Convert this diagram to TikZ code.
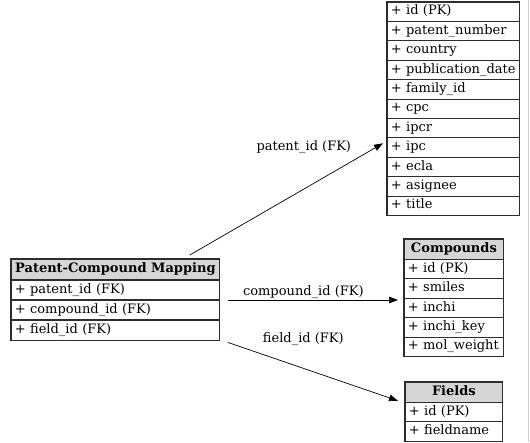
\documentclass[tikz,border=0pt]{standalone}
\usepackage{fontspec}
\setmainfont{DejaVu Serif}
\usetikzlibrary{arrows.meta, positioning, fit, calc}
\definecolor{hdrgray}{RGB}{214, 214, 214}
\definecolor{edgegray}{RGB}{45, 45, 45}
\definecolor{framegray}{RGB}{205, 205, 205}

\begin{document}
\begin{tikzpicture}[x=1pt, y=-1pt,
    cellrow/.style={draw=edgegray, line width=0.8pt, anchor=north west, inner xsep=3.5pt, inner ysep=0pt,
        minimum height=19.4pt, text height=9.5pt, text depth=3pt, align=left, font=\fontsize{13}{15}\selectfont},
    cellhead/.style={cellrow, fill=hdrgray, minimum height=20pt, align=center, font=\fontsize{13}{15}\selectfont\bfseries},
    tableframe/.style={draw=edgegray, line width=1.3pt, inner sep=0pt},
    fkarrow/.style={-{Triangle[length=9pt, width=6.5pt]}, line width=0.7pt, black},
    fklabel/.style={font=\fontsize{13}{15}\selectfont, inner sep=1pt}]

    % Rahmen des Bildes
    \useasboundingbox (0, 0) rectangle (530, 442);
    \fill[white] (0, 0) rectangle (530, 442);
    \draw[framegray, line width=1pt] (528.5, 0) -- (528.5, 442);

    % --- Patents (oben abgeschnitten) ---
    \foreach \f [count=\i] in {id (PK), patent\_number, country, publication\_date, family\_id, cpc, ipcr, ipc, ecla, asignee, title}
        \node[cellrow, text width=125pt] (pat\i) at (387, {1.5+(\i-1)*19.4}) {+ \f};
    \node[tableframe, fit=(pat1)(pat11)] (patents) {};

    % --- Patent-Compound Mapping ---
    \node[cellhead, minimum width=208pt] (maphead) at (11, 259) {Patent-Compound Mapping};
    \node[cellrow, text width=201pt, below=0pt of maphead.south west, anchor=north west] (mapp) {+ patent\_id (FK)};
    \node[cellrow, text width=201pt, below=0pt of mapp.south west, anchor=north west] (mapc) {+ compound\_id (FK)};
    \node[cellrow, text width=201pt, below=0pt of mapc.south west, anchor=north west] (mapf) {+ field\_id (FK)};
    \node[tableframe, fit=(maphead)(mapf)] (mapping) {};

    % --- Compounds ---
    \node[cellhead, minimum width=99pt] (cmphead) at (404, 239) {Compounds};
    \foreach \f [count=\i] in {id (PK), smiles, inchi, inchi\_key, mol\_weight}
        \node[cellrow, text width=92pt] (cmp\i) at (404, {259+(\i-1)*19.4}) {+ \f};
    \node[tableframe, fit=(cmphead)(cmp5)] (compounds) {};

    % --- Fields ---
    \node[cellhead, minimum width=97pt] (fldhead) at (405, 382) {Fields};
    \foreach \f [count=\i] in {id (PK), fieldname}
        \node[cellrow, text width=90pt] (fld\i) at (405, {402+(\i-1)*19.4}) {+ \f};
    \node[tableframe, fit=(fldhead)(fld2)] (fields) {};

    % Fremdschluessel
    \draw[fkarrow] ([xshift=-30pt, yshift=4pt]maphead.north east) -- node[pos=0.59, above=34pt, fklabel] {patent\_id (FK)} ([xshift=-4pt, yshift=-6pt]pat8.north west);
    \draw[fkarrow] ([xshift=8pt]mapc.north east) -- node[pos=0.444, above=0pt, fklabel] {compound\_id (FK)} ($(cmp3.west |- mapc.north east)+(-6,0)$);
    \draw[fkarrow] ([xshift=8pt, yshift=-2pt]mapf.south east) -- node[pos=0.444, above=21pt, fklabel] {field\_id (FK)} ([xshift=-7pt, yshift=2pt]fldhead.south west);

\end{tikzpicture}
\end{document}
